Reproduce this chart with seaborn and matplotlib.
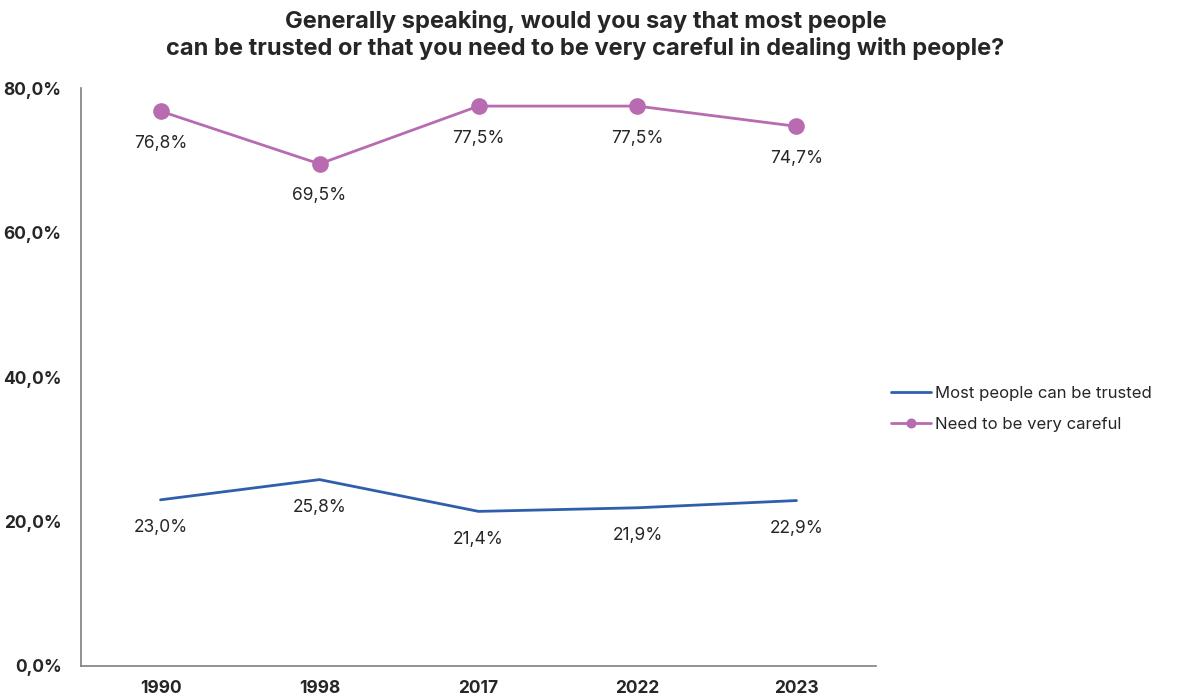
import matplotlib
matplotlib.use('Agg')
from matplotlib import pyplot as plt
import pandas as pd
import seaborn as sns

years = ['1990', '1998', '2017', '2022', '2023']
trusted = [23.0, 25.8, 21.4, 21.9, 22.9]
careful = [76.8, 69.5, 77.5, 77.5, 74.7]

blue = '#2f5fac'
pink = '#b86bb0'

sns.set_style('white')
plt.rcParams['font.family'] = ['Inter', 'DejaVu Sans']

df = pd.DataFrame({'year': years, 'trusted': trusted, 'careful': careful})

fig = plt.figure(figsize=(11.78, 6.97), dpi=100)
ax = fig.add_axes([0.0688, 0.0445, 0.6748, 0.8292])

sns.lineplot(data=df, x='year', y='trusted', ax=ax, color=blue, linewidth=2,
             label='Most people can be trusted', sort=False)
sns.lineplot(data=df, x='year', y='careful', ax=ax, color=pink, linewidth=2,
             marker='o', markersize=12, markeredgewidth=0,
             label='Need to be very careful', sort=False)

# data labels below the points
for i, v in enumerate(trusted):
    ax.annotate(f'{v:.1f}%'.replace('.', ','), (i, v), xytext=(0, -20),
                textcoords='offset points', ha='center', va='center', fontsize=12.5)
for i, v in enumerate(careful):
    ax.annotate(f'{v:.1f}%'.replace('.', ','), (i, v), xytext=(0, -23),
                textcoords='offset points', ha='center', va='center', fontsize=12.5)

ax.set_xlim(-0.5, 4.5)
ax.set_ylim(0, 80)
ax.set_yticks([0, 20, 40, 60, 80])
ax.set_yticklabels(['0,0%', '20,0%', '40,0%', '60,0%', '80,0%'], fontweight='bold', fontsize=12.5)
ax.set_xticks(range(len(years)))
ax.set_xticklabels(years, fontweight='bold', fontsize=12.5)
ax.tick_params(axis='both', length=0)
ax.tick_params(axis='x', pad=10)
ax.tick_params(axis='y', pad=14)
ax.set_xlabel('')
ax.set_ylabel('')

for s in ['top', 'right']:
    ax.spines[s].set_visible(False)
for s in ['left', 'bottom']:
    ax.spines[s].set_color('#7f7f7f')
    ax.spines[s].set_linewidth(1.2)

leg = ax.legend(loc='center left', bbox_to_anchor=(1.0, 0.445), frameon=False,
                fontsize=12, handlelength=2.4, handletextpad=0.25, labelspacing=0.95,
                markerscale=0.6)

fig.suptitle('Generally speaking, would you say that most people\n'
             'can be trusted or that you need to be very careful in dealing with people?',
             fontsize=17, fontweight='bold', x=0.497, y=0.985)

fig.savefig('out.png', dpi=100)
